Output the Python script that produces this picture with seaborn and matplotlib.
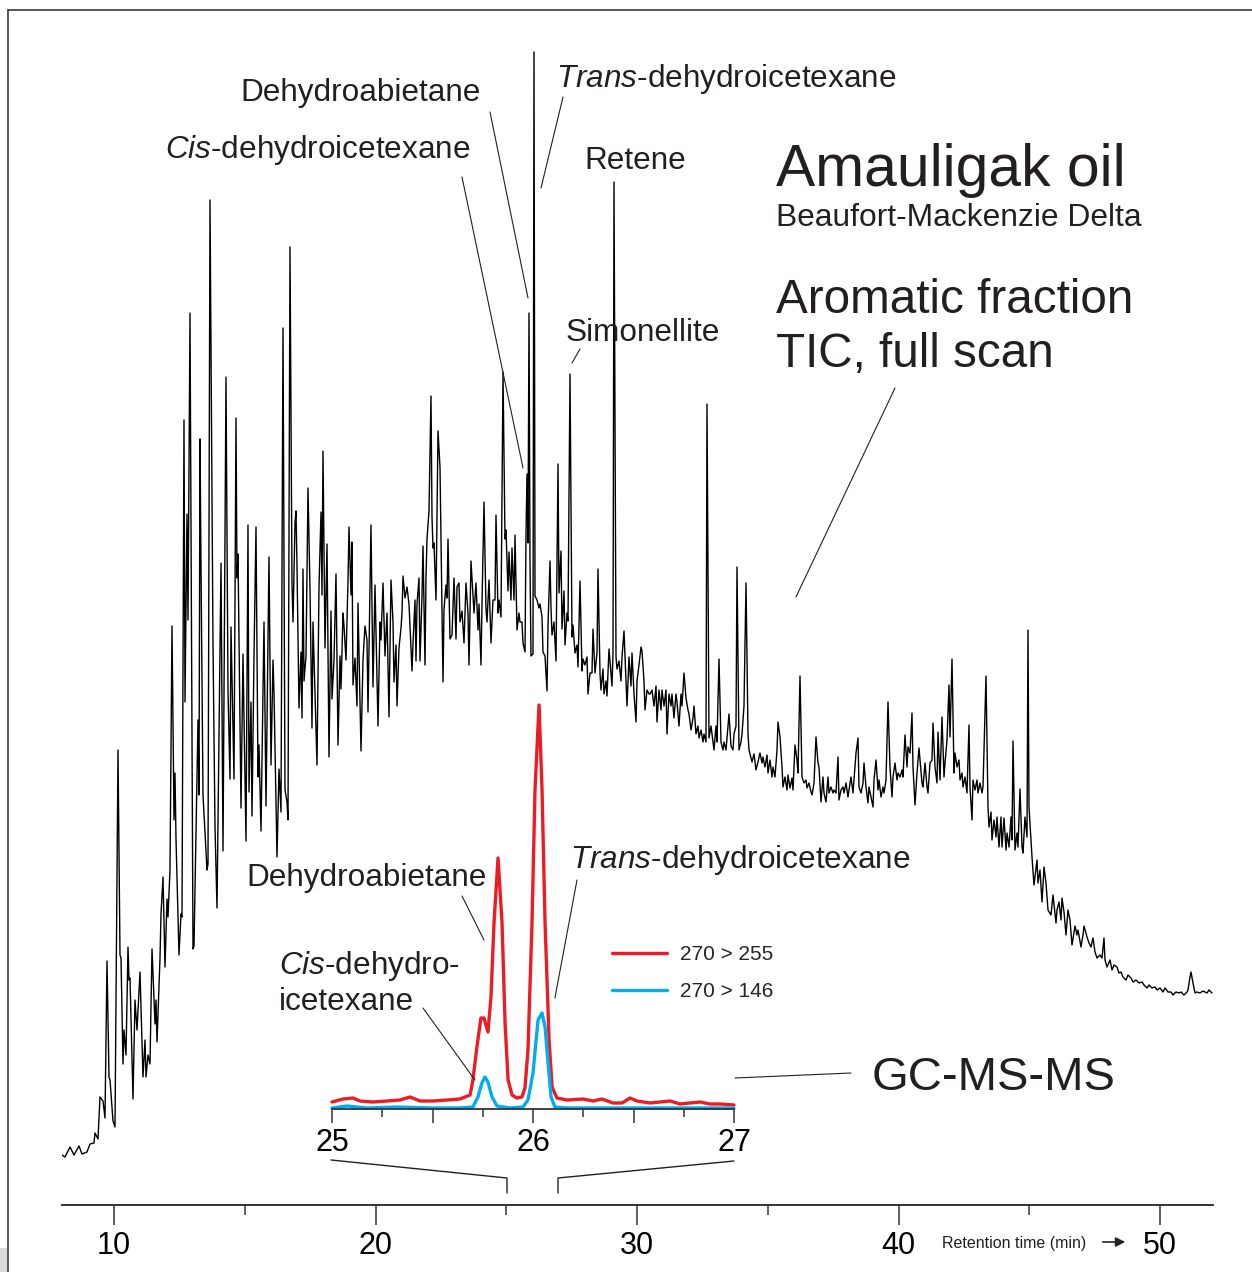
import numpy as np
import pandas as pd
import matplotlib
matplotlib.use("Agg")
import matplotlib.pyplot as plt
import seaborn as sns
from matplotlib.lines import Line2D
from matplotlib.patches import Rectangle, FancyArrowPatch

sns.set_theme(style="ticks")
plt.rcParams["font.family"] = ["Liberation Sans", "DejaVu Sans"]
plt.rcParams["mathtext.fontset"] = "custom"
plt.rcParams["mathtext.rm"] = "Liberation Sans"
plt.rcParams["mathtext.it"] = "Liberation Sans:italic"

# ---------------- data ----------------
# TIC full scan trace: (scan number, abundance in arbitrary units)
tic_seg1 = [(62,50),(65,48),(70,58),(74,50),(79,59),(82,51),(87,53),(90,61),(94,62),(95,72),(98,66),
            (100,108),(103,104),(105,87),(107,244),(109,128),(110,125),(113,84),(115,78),(118,455),
            (120,250),(121,247),(123,141),(124,175),(126,150),(128,258),(129,225),(130,227),(133,106),
            (135,205),(137,175),(140,233),(143,128),(145,165),(146,128),(148,150),(150,141),(152,256),
            (155,181),(156,205),(157,163),(160,247),(161,291),(163,328),(165,238),(167,306),(168,288),
            (170,335),(172,579),(174,385),(175,432),(176,366),(179,250),(181,291),(182,288),(184,785),
            (185,503),(187,691),(188,585),(190,892),(193,256),(194,259),(198,485),(199,410),(200,766),
            (201,638),(203,410),(205,372),(207,335),(208,341),(210,1005),(213,560),(215,378)]
tic_seg2 = [(217,297),(221,642),(223,354),(226,828),(228,514),(230,426),(231,578),(234,426),(236,787),
            (237,627),(238,651),(241,397),(243,551),(246,364),(248,680),(249,413),(251,503),(252,389),
            (254,549),(256,678),(258,428),(259,460),(261,374),(264,583),(266,399),(269,648),(271,440),
            (273,545),(274,512),(277,348),(279,436),(281,393),(283,877),(285,415),(287,403),(288,385),
            (290,958),(292,622),(293,583),(295,682),(296,694),(297,639),(299,497),(301,553),(302,487),
            (303,636),(304,524),(306,549),(308,717),(310,616),(312,477),(313,583),(315,510),(317,440),
            (319,618),(321,693),(322,610),(323,754),(325,557),(327,661),(329,448),(331,594),(332,506),
            (334,545),(336,631),(338,460),(340,549),(341,516),(343,592),(344,579),(346,545),(348,624),
            (349,678),(351,610),(352,663),(353,520),(355,547),(357,499),(358,602),(361,454),(363,545),
            (365,579),(367,565),(368,493),(371,680),(373,518),(375,620),(378,479),(380,583),(381,565),
            (383,622)]
tic_seg3 = [(385,549),(387,592),(389,488),(391,625),(393,583),(394,523),(396,560),(397,499),(399,557),
            (401,577),(402,592),(403,629),(405,607),(407,618),(409,601),(410,579),(412,534),(413,562),
            (415,605),(416,544),(417,601),(419,627),(420,544),(422,609),(423,659),(425,540),(426,629),
            (427,666),(429,694),(431,809),(432,688),(433,657),(434,662),(436,605),(438,774),(440,738),
            (441,666),(443,523),(444,596),(446,620),(447,607),(448,666),(450,566),(452,570),(454,627),
            (456,566),(457,618),(459,622),(460,583),(462,594),(464,562),(466,622),(468,592),(469,540),
            (471,644),(472,627),(474,592),(476,622),(478,575),(479,601),(481,540),(482,601),(484,703),
            (486,596),(487,583),(489,625),(491,562),(493,605),(495,605),(496,690),(498,592),(499,605),
            (501,588),(503,833),(505,666),(506,675),(508,614),(509,653),(511,605),(512,657),(514,605),
            (515,670),(517,575),(519,592),(520,583),(522,583),(523,562),(525,553),(526,670),(527,731),
            (528,662),(529,892),(530,644),(531,549),(533,551),(534,1153),(535,609),(537,605),(539,597),
            (540,601),(542,588),(543,553),(545,549),(547,514),(548,579),(550,644),(551,597),(552,570),
            (554,583),(556,544),(558,741),(559,612)]
tic_seg4 = [(561,654),(562,576),(564,614),(565,560),(567,592),(568,584),(570,831),(572,568),(573,580),
            (575,552),(577,560),(578,538),(580,624),(582,534),(583,546),(585,540),(587,548),(588,511),
            (590,532),(592,532),(593,576),(595,532),(597,552),(598,636),(600,532),(601,515),(603,536),
            (604,511),(606,524),(607,509),(609,556),(610,544),(612,519),(613,552),(614,1023),(616,548),
            (617,536),(619,544),(621,524),(622,548),(624,574),(626,524),(627,499),(629,548),(631,519),
            (632,552),(634,511),(636,483),(637,524),(639,540),(641,558),(642,554),(644,524),(645,495),
            (647,515),(649,511),(650,511),(652,515),(654,499),(656,519),(657,483),(659,515),(661,495),
            (662,515),(664,499),(666,515),(667,471),(669,511),(671,499),(672,511),(674,487),(676,511),
            (677,503),(679,479),(681,511),(682,499),(684,532),(686,507),(688,495),(689,491),(691,475),
            (693,487),(694,499),(696,471),(698,479),(699,467),(701,475),(703,463),(704,471),(706,463),
            (707,801),(709,467),(711,479),(712,471),(714,455),(716,479),(717,463),(719,546),(721,463),
            (723,455),(724,463),(726,455),(728,479),(729,491),(731,459),(733,455),(734,471),(736,479),
            (737,638),(739,455),(741,463),(742,471),(744,499),(746,622),(748,471),(749,455),(752,443),
            (754,451),(756,435),(758,443)]
tic_seg5 = [(760,452),(762,442),(763,448),(765,438),(767,450),(768,432),(770,445),(772,428),(773,438),
            (775,428),(777,455),(778,483),(780,468),(782,438),(783,418),(785,428),(787,415),(788,430),
            (790,417),(792,427),(793,415),(795,460),(797,445),(798,432),(800,529),(802,428),(804,422),
            (806,425),(807,417),(809,422),(811,413),(812,410),(814,422),(816,468),(818,442),(819,438),
            (821,403),(823,428),(824,412),(826,403),(828,428),(829,412),(831,418),(833,412),(834,415),
            (836,412),(838,448),(839,405),(841,415),(843,418),(844,412),(846,422),(848,408),(849,415),
            (851,428),(853,412),(854,425),(856,452),(858,467),(859,418),(861,412),(863,422),(864,442),
            (866,418),(868,402),(869,418),(871,408),(873,398),(874,425),(876,445),(878,415),(879,425),
            (881,408),(883,418),(884,412),(886,425),(888,503),(890,438),(892,408),(893,428),(895,442),
            (897,425),(898,432),(900,428),(902,435),(903,428),(905,470),(907,438),(908,458),(910,452),
            (912,492),(913,438),(915,400),(917,432),(919,457),(920,445),(922,422),(923,418),(925,442),
            (927,418),(928,412),(930,442),(932,445),(933,482),(935,438),(937,422),(938,473),(940,425),
            (942,488),(944,428),(945,442),(947,465),(949,520),(950,468),(952,546),(954,432),(955,452),
            (957,438),(959,445),(960,425),(962,432),(963,418),(965,428),(967,412),(969,480),(970,418),
            (972,385),(973,425),(975,415),(977,425),(978,412),(980,422),(982,412),(983,418),(986,529),
            (988,398),(989,378),(991,393),(992,365),(994,385),(996,368),(997,388),(999,358),(1001,388),
            (1002,358),(1004,387),(1006,355),(1007,372),(1009,358),(1011,388),(1012,365),(1013,464),
            (1015,355),(1017,372),(1018,358),(1020,416),(1022,358),(1023,352),(1025,388),(1027,368),
            (1028,575),(1029,398)]
tic_seg6 = [(1032,348),(1034,320),(1037,345),(1038,322),(1040,335),(1042,303),(1044,338),(1046,322),
            (1048,295),(1051,290),(1053,310),(1056,282),(1057,295),(1059,303),(1061,285),(1062,307),
            (1064,293),(1066,270),(1068,295),(1070,285),(1072,260),(1075,279),(1077,270),(1078,275),
            (1081,258),(1083,270),(1084,279),(1087,268),(1089,262),(1091,258),(1093,267),(1095,253),
            (1097,247),(1100,250),(1102,247),(1104,267),(1105,245),(1107,238),(1110,245),(1112,235),
            (1114,240),(1117,238),(1119,232),(1121,233),(1123,228),(1126,225),(1128,230),(1131,227),
            (1133,223),(1136,225),(1139,222),(1142,223),(1144,220),(1147,217),(1149,220),(1152,217),
            (1155,218),(1157,215),(1160,217),(1163,213),(1165,217),(1168,213),(1171,213),(1173,210),
            (1176,213),(1179,212),(1181,213),(1184,210),(1187,213),(1188,215),(1190,228),(1191,233),
            (1193,222),(1195,212),(1197,213),(1200,212),(1203,214),(1207,212),(1209,215),(1212,212)]
# scan-number -> retention time calibration
CAL_SCAN, CAL_RT, SCANS_PER_MIN = 114, 10.0, 26.15

# GC-MS-MS inset (retention time in min, abundance)
mrm_255_rt = [25.000,25.055,25.104,25.139,25.204,25.274,25.338,25.388,25.438,25.502,25.572,25.637,25.687,
              25.701,25.721,25.741,25.756,25.776,25.791,25.806,25.826,25.846,25.861,25.876,25.896,25.920,
              25.945,25.960,25.975,25.995,26.010,26.030,26.045,26.060,26.080,26.095,26.119,26.169,26.249,
              26.299,26.343,26.398,26.443,26.483,26.517,26.582,26.632,26.682,26.731,26.781,26.831,26.881,
              26.930,27.000]
mrm_255_ab = [7,10,11,8,7,8,9,12,8,8,9,10,14,29,62,91,91,77,112,186,251,186,86,29,14,11,12,21,59,186,319,
              404,319,186,69,22,11,9,10,8,10,6,6,11,8,6,7,8,5,6,7,5,5,4]
mrm_146_rt = [25.000,25.075,25.174,25.323,25.502,25.637,25.701,25.726,25.746,25.761,25.776,25.796,25.821,
              25.886,25.950,25.975,26.000,26.025,26.045,26.060,26.075,26.090,26.109,26.169,26.333,26.582,
              26.831,27.000]
mrm_146_ab = [1,3,1,2,1,1,2,12,26,32,27,12,3,1,2,9,36,89,96,82,46,12,2,1,1,1,1,1]
legend_labels = ["270 > 255", "270 > 146"]

main_major = [10, 20, 30, 40, 50]
main_minor = [15, 25, 35, 45]
inset_major = [25, 25.5, 26, 26.5, 27]
inset_major_labels = ["25", "", "26", "", "27"]
inset_minor = [25.25, 25.75, 26.25, 26.75]

RED, BLUE, INK = "#ED1C24", "#00AEEF", "#231f20"

# ---------------- layout helpers ----------------
W, H = 1252, 1272
def fx(x): return x / W
def fy(y): return 1 - y / H
def fp(x, y): return (fx(x), fy(y))

fig = plt.figure(figsize=(W / 100, H / 100), dpi=100)

# frame
fig.add_artist(Line2D([fx(8), fx(8)], [fy(10), 0], transform=fig.transFigure, color="#3a3a3a", lw=1.2))
fig.add_artist(Line2D([fx(8), 1], [fy(10), fy(10)], transform=fig.transFigure, color="#3a3a3a", lw=1.2))
fig.add_artist(Rectangle((0, 0), fx(7), (H - 1248) / H, transform=fig.transFigure, color="#d9d9d9", lw=0))

# ---------------- main TIC ----------------
pts = tic_seg1 + tic_seg2 + tic_seg3 + tic_seg4 + tic_seg5 + tic_seg6
tic = pd.DataFrame(pts, columns=["scan", "abundance"])
tic["rt"] = CAL_RT + (tic["scan"] - CAL_SCAN) / SCANS_PER_MIN

ax = fig.add_axes([fx(62), fy(1205), (1213 - 62) / W, (1205 - 40) / H])
ax.patch.set_alpha(0)
sns.lineplot(data=tic, x="rt", y="abundance", ax=ax, color="black", lw=1.0,
             sort=False, estimator=None)
ax.set_xlim(CAL_RT + (62 - CAL_SCAN) / SCANS_PER_MIN, CAL_RT + (1213 - CAL_SCAN) / SCANS_PER_MIN)
ax.set_ylim(0, 1165)
for s in ["top", "left", "right"]:
    ax.spines[s].set_visible(False)
ax.spines["bottom"].set_color("#333333")
ax.spines["bottom"].set_linewidth(1.4)
ax.set_yticks([])
ax.set_xticks(main_major)
ax.set_xticks(main_minor, minor=True)
ax.tick_params(axis="x", which="major", bottom=True, direction="out", length=14.4, width=1.1,
               color="#333333", labelsize=22, pad=4, labelcolor="black")
ax.tick_params(axis="x", which="minor", bottom=True, direction="out", length=7.2, width=1.1, color="#333333")
ax.set_xlabel("")
ax.set_ylabel("")

# ---------------- inset GC-MS-MS ----------------
axi = fig.add_axes([fx(332), fy(1109), (734 - 332) / W, (1109 - 700) / H])
axi.patch.set_alpha(0)
sns.lineplot(x=mrm_255_rt, y=mrm_255_ab, ax=axi, color=RED, lw=2.4, sort=False, estimator=None)
sns.lineplot(x=mrm_146_rt, y=mrm_146_ab, ax=axi, color=BLUE, lw=2.4, sort=False, estimator=None)
axi.set_xlim(25, 27)
axi.set_ylim(0, 409)
for s in ["top", "left", "right"]:
    axi.spines[s].set_visible(False)
axi.spines["bottom"].set_color("#333333")
axi.spines["bottom"].set_linewidth(1.3)
axi.set_yticks([])
axi.set_xticks(inset_major)
axi.set_xticklabels(inset_major_labels)
axi.set_xticks(inset_minor, minor=True)
axi.tick_params(axis="x", which="major", bottom=True, direction="out", length=10, width=1.1,
                color="#333333", labelsize=22, pad=3.5, labelcolor="black")
axi.tick_params(axis="x", which="minor", bottom=True, direction="out", length=5.8, width=1.1, color="#333333")
for ln in axi.lines:
    ln.set_clip_on(False)

axi.legend(handles=axi.lines[:2], labels=legend_labels, loc="center left",
           bbox_to_anchor=fp(612, 973), bbox_transform=fig.transFigure, frameon=False,
           fontsize=15, handlelength=2.65, handletextpad=0.62, labelspacing=0.85,
           borderpad=0, borderaxespad=0)

# ---------------- texts ----------------
def label(x, y, s, size, **kw):
    fig.text(fx(x), fy(y), s, fontsize=size, ha="left", va="baseline", color=INK, **kw)

label(240, 101, "Dehydroabietane", 22.7)
label(165, 158, r"$\mathit{Cis}$-dehydroicetexane", 22.7)
label(556, 87, r"$\mathit{Trans}$-dehydroicetexane", 22.7)
label(584, 169, "Retene", 22.7)
label(566, 341, "Simonellite", 22.7)
label(776, 186, "Amauligak oil", 42.3)
label(776, 226, "Beaufort-Mackenzie Delta", 22.9)
label(776, 313, "Aromatic fraction", 34.3)
label(776, 367, "TIC, full scan", 34.3)
label(246, 886, "Dehydroabietane", 22.7)
label(570, 868, r"$\mathit{Trans}$-dehydroicetexane", 22.7)
label(279, 974, r"$\mathit{Cis}$-dehydro-", 22.7)
label(279, 1010, "icetexane", 22.7)
label(872, 1090, "GC-MS-MS", 34)
label(942, 1248, "Retention time (min)", 11.5)

# leader lines (text -> peak)
def leader(axes, xy_data, start_px):
    axes.annotate("", xy=xy_data, xycoords="data", xytext=fp(*start_px), textcoords="figure fraction",
                  arrowprops=dict(arrowstyle="-", lw=0.8, color=INK, shrinkA=0, shrinkB=0),
                  annotation_clip=False)

leader(ax, (25.832, 907), (490, 112))
leader(ax, (25.641, 737), (462, 177))
leader(ax, (26.329, 1017), (563, 97))
leader(ax, (27.514, 842), (580, 349))
leader(ax, (36.080, 608), (895, 388))
leader(axi, (25.756, 169), (462, 896))
leader(axi, (26.109, 111), (577, 880))
leader(axi, (25.711, 29), (423, 1008))
fig.add_artist(Line2D([fx(851), fx(735)], [fy(1073), fy(1078)], transform=fig.transFigure, color=INK, lw=0.8))

# zoom bracket linking the inset to 25-27 min on the main axis
fig.add_artist(Line2D([fx(331), fx(507), fx(507)], [fy(1160), fy(1178), fy(1193)],
                      transform=fig.transFigure, color=INK, lw=1.0))
fig.add_artist(Line2D([fx(734), fx(558), fx(558)], [fy(1161), fy(1178), fy(1193)],
                      transform=fig.transFigure, color=INK, lw=1.0))

# retention-time arrow
fig.add_artist(FancyArrowPatch(fp(1100, 1242), fp(1128, 1242), transform=fig.transFigure,
                               arrowstyle="-|>", mutation_scale=14, lw=1.2, color=INK))

fig.savefig("out.png", dpi=100)
